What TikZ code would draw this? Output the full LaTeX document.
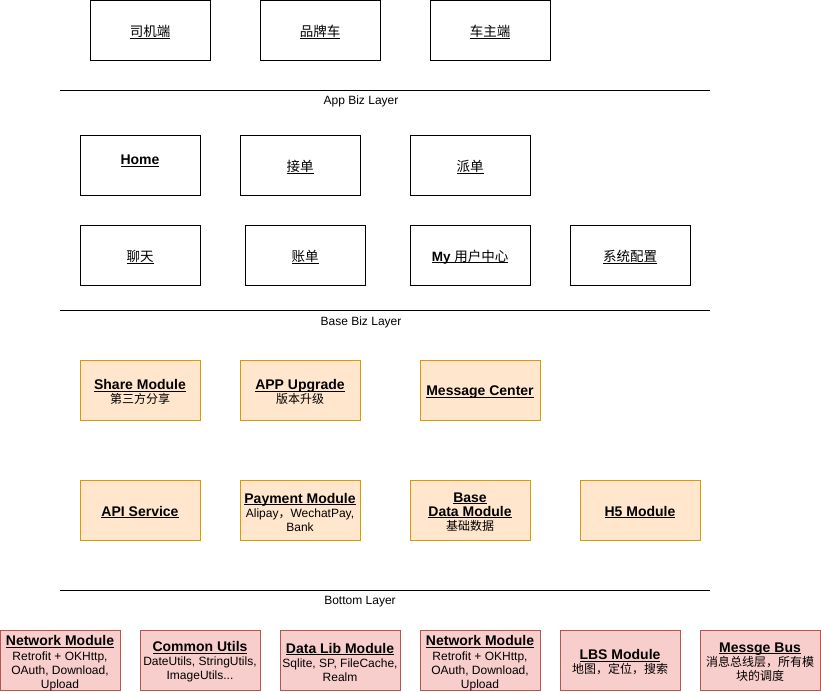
\documentclass[tikz,border=0pt]{standalone}
\usepackage{fontspec}
\setmainfont{Liberation Sans}
\newfontfamily\cjk{Noto Sans CJK SC}
\definecolor{ofill}{HTML}{FFE6CC}
\definecolor{ostroke}{HTML}{D79B00}
\definecolor{rfill}{HTML}{F8CECC}
\definecolor{rstroke}{HTML}{B85450}
\newsavebox{\ulbox}
\newcommand{\ulx}[1]{\sbox{\ulbox}{#1}\rlap{\rule[-1.8pt]{\wd\ulbox}{0.7pt}}\usebox{\ulbox}}
\newcommand{\ttl}[1]{{\fontsize{14}{15}\selectfont\ulx{\textbf{#1}}}}
\newcommand{\cttl}[1]{{\fontsize{13.5}{15}\selectfont\ulx{\cjk #1}}}
\newcommand{\bx}[5][2]{\node[#2] (#3) at (#4) {}; \node[txt] (#3-t) at ([yshift=-#1pt]#3.center) {#5};}
\begin{document}
\begin{tikzpicture}[x=1pt,y=-1pt,
  box/.style={draw=black, line width=0.8pt, minimum width=120pt, minimum height=60pt, inner sep=0pt},
  obox/.style={box, fill=ofill, draw=ostroke},
  rbox/.style={box, fill=rfill, draw=rstroke},
  txt/.style={inner sep=0pt, align=center, font=\fontsize{12}{14}\selectfont},
  layer/.style={font=\fontsize{12}{14}\selectfont, inner sep=0pt},
  sep/.style={line width=0.8pt}]
\useasboundingbox (0,0) rectangle (821,691);
% top row
\bx{box}{driver}{150,30}{\cttl{司机端}}
\bx{box}{brand}{320,30}{\cttl{品牌车}}
\bx{box}{owner}{490,30}{\cttl{车主端}}
\coordinate (l1a) at (60,90); \coordinate (l1b) at (710,90);
\draw[sep] (l1a) -- (l1b);
\node[layer] (lay1) at (361,101.5) {App Biz Layer};
% base biz
\node[box] (home) at (140,165) {};
\node[txt] (home-t) at (140,160.5) {\ttl{Home}};
\bx{box}{jiedan}{300,165}{\cttl{接单}}
\bx{box}{paidan}{470,165}{\cttl{派单}}
\bx{box}{chat}{140,255}{\cttl{聊天}}
\bx{box}{bill}{305,255}{\cttl{账单}}
\bx{box}{my}{470,255}{{\fontsize{13.5}{15}\selectfont\ulx{\textbf{My} {\cjk 用户中心}}}}
\bx{box}{config}{630,255}{\cttl{系统配置}}
\coordinate (l2a) at (60,310); \coordinate (l2b) at (710,310);
\draw[sep] (l2a) -- (l2b);
\node[layer] (lay2) at (361,322) {Base Biz Layer};
% orange
\bx{obox}{share}{140,390}{\ttl{Share Module}\\{\cjk 第三方分享}}
\bx{obox}{upgrade}{300,390}{\ttl{APP Upgrade}\\{\cjk 版本升级}}
\bx{obox}{msgc}{480,390}{\ttl{Message Center}}
\bx{obox}{api}{140,510}{\ttl{API Service}}
\bx{obox}{pay}{300,510}{\ttl{Payment Module}\\Alipay{\cjk ，}WechatPay,\\Bank}
\bx{obox}{basedata}{470,510}{\ttl{Base}\\\ttl{Data Module}\\{\cjk 基础数据}}
\bx{obox}{h5}{640,510}{\ttl{H5 Module}}
\coordinate (l3a) at (60,590); \coordinate (l3b) at (710,590);
\draw[sep] (l3a) -- (l3b);
\node[layer] (lay3) at (360,601.5) {Bottom Layer};
% bottom
\bx[3]{rbox}{net1}{60,660}{\ttl{Network Module}\\[0.5pt]Retrofit + OKHttp,\\OAuth, Download,\\Upload}
\bx{rbox}{utils}{200,660}{\ttl{Common Utils}\\DateUtils, StringUtils,\\ImageUtils...}
\bx{rbox}{datalib}{340,660}{\ttl{Data Lib Module}\\Sqlite, SP, FileCache,\\Realm}
\bx[3]{rbox}{net2}{480,660}{\ttl{Network Module}\\[0.5pt]Retrofit + OKHttp,\\OAuth, Download,\\Upload}
\bx{rbox}{lbs}{620,660}{\ttl{LBS Module}\\{\cjk 地图，定位，搜索}}
\bx{rbox}{bus}{760,660}{\ttl{Messge Bus}\\{\cjk 消息总线层，所有模}\\{\cjk 块的调度}}
\end{tikzpicture}
\end{document}
